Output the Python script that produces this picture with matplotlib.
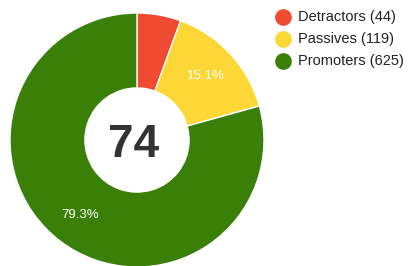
import matplotlib
matplotlib.use("Agg")
import matplotlib.pyplot as plt
from matplotlib.lines import Line2D

categories = ["Detractors", "Passives", "Promoters"]
counts = [44, 119, 625]
colors = ["#EF4B32", "#FDD735", "#3A7F07"]
center_label = "74"

plt.rcParams['font.family'] = ['Liberation Sans', 'DejaVu Sans']

W, H = 416, 266
fig = plt.figure(figsize=(W / 100, H / 100), dpi=100)
cx, cy, r = 137, 140, 127
ax = fig.add_axes([(cx - r) / W, (H - cy - r) / H, 2 * r / W, 2 * r / H])


def fmt(p):
    return f"{p:.1f}%" if p >= 6 else ""


wedges, texts, autotexts = ax.pie(
    counts, colors=colors, startangle=90, counterclock=False, radius=1,
    wedgeprops=dict(width=0.59, edgecolor='white', linewidth=1),
    autopct=fmt, pctdistance=0.74,
    textprops=dict(color='white', fontsize=9.5))

ax.set_xlim(-1, 1)
ax.set_ylim(-1, 1)
ax.set_aspect('equal')
ax.axis('off')

ax.text(-0.03, -0.04, center_label, ha='center', va='center', fontsize=33,
        fontweight='bold', color='#333333')

# legend
ys = [17, 39, 61]
for cat, n, col, y in zip(categories, counts, colors, ys):
    fig.add_artist(Line2D([283 / W], [1 - y / H], marker='o', markersize=11,
                          color=col, linestyle='none', transform=fig.transFigure))
    fig.text(298 / W, 1 - y / H, f"{cat} ({n})", ha='left', va='center',
             fontsize=10.5, color='#222222')

fig.savefig("out.png", dpi=100)
